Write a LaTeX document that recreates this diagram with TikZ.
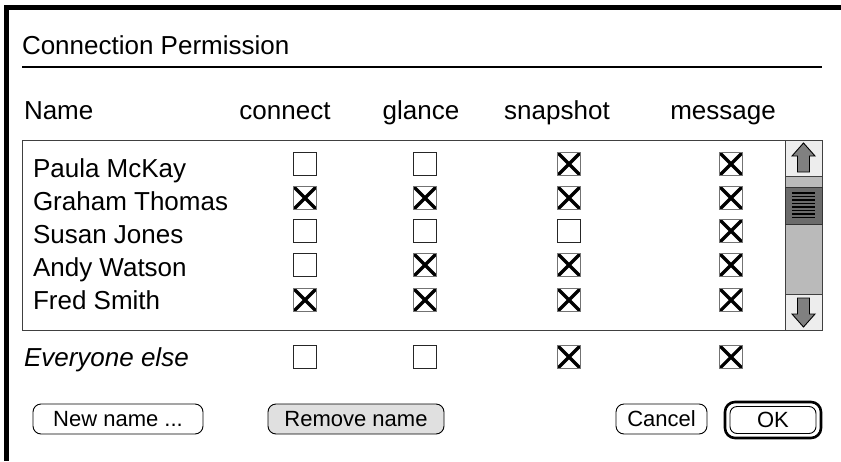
\documentclass[tikz,border=0pt]{standalone}
\usepackage{fontspec}
\setmainfont{Liberation Sans}
\begin{document}
\begin{tikzpicture}[x=1pt,y=-1pt,
  every node/.style={inner sep=0pt, outer sep=0pt},
  lbl/.style={font=\fontsize{26}{26}\selectfont, anchor=base},
  lblw/.style={font=\fontsize{26}{26}\selectfont, anchor=base west},
  cb/.style={draw=black!85, line width=0.9pt, minimum size=23pt, fill=white},
  cbx/.style={draw=black!55, line width=0.9pt, minimum size=23pt, fill=white,
    path picture={\draw[line width=3.2pt, black]
      (path picture bounding box.north west) -- (path picture bounding box.south east)
      (path picture bounding box.north east) -- (path picture bounding box.south west);}},
  btn/.style={draw=black, line width=0.9pt, rounded corners=8pt, font=\fontsize{22}{22}\selectfont},
  arrowshape/.style={draw=black, fill=black!50, line width=0.9pt, line join=miter}
]
\useasboundingbox (0,0) rectangle (841,461);
\fill[white] (0,0) rectangle (841,461);
% window frame (top and left)
\fill[black] (4,5) rectangle (841,10);
\fill[black] (4,5) rectangle (9,461);
% title
\node[lblw] (title) at (22,54) {Connection Permission};
\draw[line width=2pt] (22,67) coordinate (tl1) -- (822,67) coordinate (tl2);
% header
\node[lblw] (hname) at (24,119) {Name};
\node[lbl] (hconnect) at (285,119) {connect};
\node[lbl] (hglance) at (421,119) {glance};
\node[lbl] (hsnap) at (557,119) {snapshot};
\node[lbl] (hmsg) at (723,119) {message};
% list box
\node[draw=black!75, line width=1pt, minimum width=800pt, minimum height=190pt, anchor=north west] (list) at (22,140) {};
% scrollbar
\node[draw=black!75, fill=black!27, line width=1pt, minimum width=37pt, minimum height=190pt, anchor=north west] (track) at (785,140) {};
\node[draw=black!75, fill=black!7, line width=1pt, minimum width=37pt, minimum height=36pt, anchor=north west] (upbtn) at (785,140) {};
\node[draw=black!75, fill=black!7, line width=1pt, minimum width=37pt, minimum height=36pt, anchor=south west] (dnbtn) at (785,330) {};
\node[draw=black!80, fill=black!58, line width=1pt, minimum width=37pt, minimum height=37pt, anchor=north west] (thumb) at (785,187) {};
\foreach \yy in {193,196.5,200,203.5,207,210.5,214,217.5}
  \draw[line width=1.4pt] (792,\yy) -- (815,\yy);
% up arrow
\draw[arrowshape] (803.5,143) -- (815,156) -- (809.5,156) -- (809.5,172) -- (797.5,172) -- (797.5,156) -- (792,156) -- cycle;
% down arrow
\draw[arrowshape] (803.5,327) -- (815,314) -- (809.5,314) -- (809.5,298) -- (797.5,298) -- (797.5,314) -- (792,314) -- cycle;
% names
\node[lblw] (n1) at (33,177) {Paula McKay};
\node[lblw] (n2) at (33,210) {Graham Thomas};
\node[lblw] (n3) at (33,243) {Susan Jones};
\node[lblw] (n4) at (33,276) {Andy Watson};
\node[lblw] (n5) at (33,309) {Fred Smith};
% checkboxes row 1
\node[cb]  (c11) at (305,164) {};
\node[cb]  (c12) at (425,164) {};
\node[cbx] (c13) at (569,164) {};
\node[cbx] (c14) at (731,164) {};
% row 2
\node[cbx] (c21) at (305,198) {};
\node[cbx] (c22) at (425,198) {};
\node[cbx] (c23) at (569,198) {};
\node[cbx] (c24) at (731,198) {};
% row 3
\node[cb]  (c31) at (305,231) {};
\node[cb]  (c32) at (425,231) {};
\node[cb]  (c33) at (569,231) {};
\node[cbx] (c34) at (731,231) {};
% row 4
\node[cb]  (c41) at (305,265) {};
\node[cbx] (c42) at (425,265) {};
\node[cbx] (c43) at (569,265) {};
\node[cbx] (c44) at (731,265) {};
% row 5
\node[cbx] (c51) at (305,300) {};
\node[cbx] (c52) at (425,300) {};
\node[cbx] (c53) at (569,300) {};
\node[cbx] (c54) at (731,300) {};
% everyone else
\node[lblw, font=\fontsize{26}{26}\selectfont\itshape] (ee) at (24,366) {Everyone else};
\node[cb]  (e1) at (305,357) {};
\node[cb]  (e2) at (425,357) {};
\node[cbx] (e3) at (569,357) {};
\node[cbx] (e4) at (731,357) {};
% buttons
\node[btn, minimum width=170pt, minimum height=30pt] (bnew) at (118,419) {New name ...};
\node[btn, fill=black!12, minimum width=176pt, minimum height=30pt] (bremove) at (356,419) {Remove name};
\node[btn, minimum width=91pt, minimum height=30pt] (bcancel) at (661.5,419) {Cancel};
\node[draw=black, line width=2.6pt, rounded corners=10pt, minimum width=96pt, minimum height=36pt] (bokout) at (773,420) {};
\node[btn, minimum width=86pt, minimum height=27pt, rounded corners=7pt] (bok) at (773,420) {OK};
\end{tikzpicture}
\end{document}
